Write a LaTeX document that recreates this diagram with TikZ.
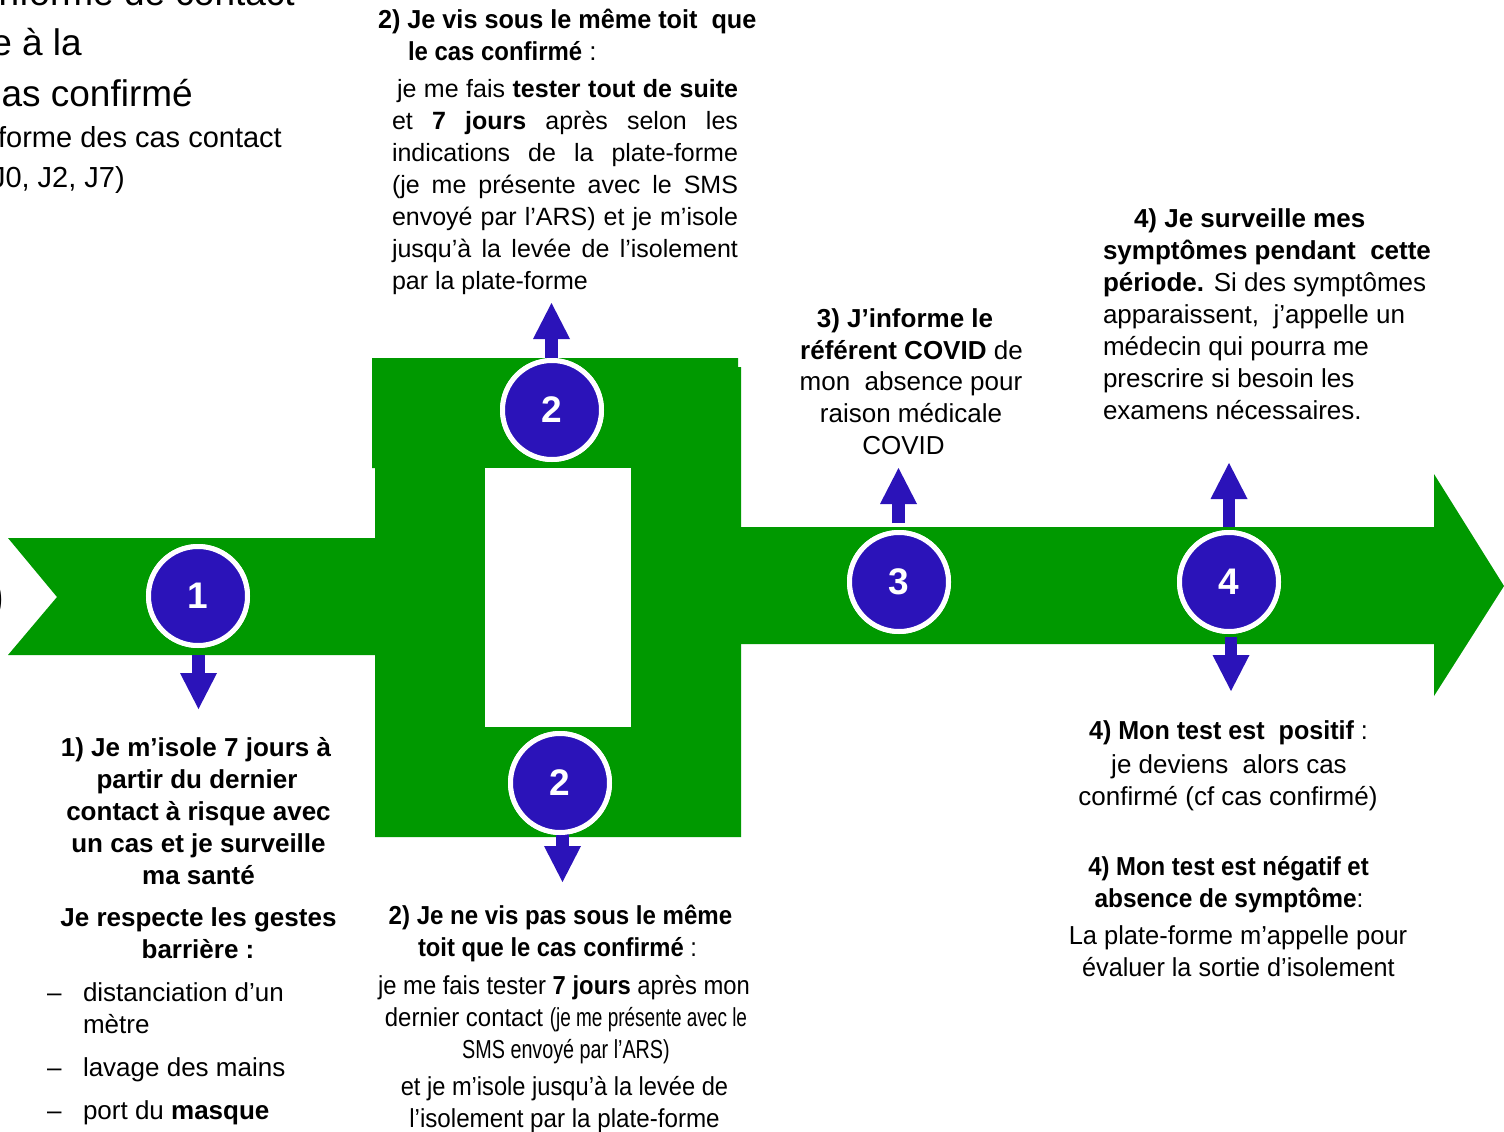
\documentclass[tikz,border=0pt]{standalone}
\usepackage{fontspec}
\setmainfont{Liberation Sans}
\usepackage{graphicx}
\usetikzlibrary{arrows.meta}
\definecolor{vgreen}{RGB}{0,153,0}
\definecolor{vblue}{RGB}{43,19,185}
\newcommand\sx[2]{\scalebox{#1}[1]{#2}}
\begin{document}
\begin{tikzpicture}[x=1pt,y=-1pt,
  txt/.style={font=\fontsize{26}{32}\selectfont, inner sep=0pt, outer sep=0pt},
  txs/.style={font=\fontsize{25}{31}\selectfont, inner sep=0pt, outer sep=0pt, anchor=base west},
  big/.style={font=\fontsize{37}{44}\selectfont, inner sep=0pt, anchor=base east},
  mid/.style={font=\fontsize{29}{35}\selectfont, inner sep=0pt, anchor=base east},
  num/.style={circle, fill=vblue, draw=white, line width=5pt, minimum size=99pt, inner sep=0pt, text=white, font=\fontsize{37}{40}\selectfont\bfseries},
  band/.style={fill=vgreen},
  blk/.style={draw=vblue, line width=12.5pt, -{Triangle[width=37pt,length=36pt,line width=0pt,fill=vblue]}},
  lc/.style={txt, anchor=base},
  ll/.style={txt, anchor=base west}
]
\useasboundingbox (0,0) rectangle (1504,1132);
\clip (0,0) rectangle (1504,1132);

% green arrow
\fill[band] (8,538) -- (380,538) -- (380,655) -- (8,655) -- (57,597) -- cycle;
\fill[band] (372,358) -- (738,358) -- (738,367) -- (741,367) -- (741,837) -- (375,837) -- (375,468) -- (372,468) -- cycle;
\fill[white] (485,468) rectangle (631,727);
\fill[band] (740,527) -- (1434,527) -- (1434,474) -- (1504,586) -- (1434,696) -- (1434,644) -- (740,644) -- cycle;

% tips of the pointers
\coordinate (a1) at (198.5,709);
\coordinate (a2t) at (551.5,303);
\coordinate (a2b) at (562.5,882);
\coordinate (a3) at (898.5,468);
\coordinate (a4t) at (1229,463);
\coordinate (a4b) at (1231,691);

% circles
\path (198,596) node[num] (c1) {1}
      (552,410) node[num] (c2t) {2}
      (560,783) node[num] (c2b) {2}
      (899,582) node[num] (c3) {3}
      (1229,582) node[num] (c4) {4};

\draw[blk, shorten <=7pt] (a1 |- c1.south) -- (a1);
\draw[blk] (a2t |- c2t.north) -- (a2t);
\draw[blk] (a2b |- c2b.center) -- (a2b);
\draw[blk, shorten <=7pt] (a3 |- c3.north) -- (a3);
\draw[blk, shorten <=3pt] (a4t |- c4.north) -- (a4t);
\draw[blk, shorten <=3pt] (a4b |- c4.south) -- (a4b);

% circles again, over the pointers
\path (198,596) node[num] {1}
      (552,410) node[num] {2}
      (560,783) node[num] {2}
      (899,582) node[num] {3}
      (1229,582) node[num] {4};

% top-left clipped title
\node[big] (h1) at (295,6) {nforme de contact};
\node[big] (h2) at (82,56) {e à la};
\node[big] (h3) at (193,106) {as confirmé};
\node[mid] (h4) at (282,147) {forme des cas contact};
\node[mid] (h5) at (125,187) {J0, J2, J7)};
\node[font=\fontsize{56}{60}\selectfont, inner sep=0pt, anchor=base east] (h6) at (5,614) {)};

% block 2 top
\node[ll] (t2a) at (378,29) {\sx{0.97}{\textbf{2) Je vis sous le même toit\ \ que}}};
\node[ll] (t2b) at (408,60) {\sx{0.92}{\textbf{le cas confirmé}} :};
\node[txs] (t2c) at (397,97) {\makebox[341pt][s]{je me fais \textbf{tester tout de suite}}};
\node[txs] (t2d) at (392,129) {\makebox[346pt][s]{et \textbf{7 jours} après selon les}};
\node[txs] (t2e) at (392,161) {\makebox[346pt][s]{indications de la plate-forme}};
\node[txs] (t2f) at (392,193) {\makebox[346pt][s]{(je me présente avec le SMS}};
\node[txs] (t2g) at (392,225) {\makebox[346pt][s]{envoyé par l’ARS) et je m’isole}};
\node[txs] (t2h) at (392,257) {\makebox[346pt][s]{jusqu’à la levée de l’isolement}};
\node[txs] (t2i) at (392,289) {par la plate-forme};

% block 3
\node[lc] (t3a) at (905,327.5) {\textbf{3) J’informe le}};
\node[lc] (t3b) at (911.5,359) {\textbf{référent COVID} de};
\node[lc] (t3c) at (911,390.5) {mon\ \ absence pour};
\node[lc] (t3d) at (911,422.5) {raison médicale};
\node[lc] (t3e) at (903.5,454.5) {COVID};

% block 4 top
\node[ll] (t4a) at (1134,227) {\textbf{4) Je surveille mes}};
\node[ll] (t4b) at (1103,259) {\textbf{symptômes pendant\ \ cette}};
\node[ll] (t4c) at (1103,291) {\textbf{période.} Si des symptômes};
\node[ll] (t4d) at (1103,323) {apparaissent,\ \ j’appelle un};
\node[ll] (t4e) at (1103,355) {médecin qui pourra me};
\node[ll] (t4f) at (1103,387) {prescrire si besoin les};
\node[ll] (t4g) at (1103,419) {examens nécessaires.};

% block 4 bottom
\node[lc] (t5a) at (1228.5,739) {\sx{0.965}{\textbf{4) Mon test est\ \ positif} :}};
\node[lc] (t5b) at (1229,773) {je deviens\ \ alors cas};
\node[lc] (t5c) at (1228,805) {confirmé (cf cas confirmé)};
\node[lc] (t5d) at (1228.5,875) {\sx{0.92}{\textbf{4) Mon test est négatif et}}};
\node[lc] (t5e) at (1229,907) {\sx{0.94}{\textbf{absence de symptôme}:}};
\node[lc] (t5f) at (1238,944) {\sx{0.98}{La plate-forme m’appelle pour}};
\node[lc] (t5g) at (1238.5,976) {\sx{0.97}{évaluer la sortie d’isolement}};

% block 2 bottom
\node[lc] (t6a) at (560.5,924) {\sx{0.925}{\textbf{2) Je ne vis pas sous le même}}};
\node[lc] (t6b) at (557.5,956) {\sx{0.915}{\textbf{toit que le cas confirmé} :}};
\node[lc] (t6c) at (564,994) {\sx{0.916}{je me fais tester \textbf{7 jours} après mon}};
\node[lc] (t6d) at (566,1026) {\sx{0.92}{dernier contact }\sx{0.73}{(je me présente avec le}};
\node[lc] (t6e) at (566,1058) {\sx{0.76}{SMS envoyé par l’ARS)}};
\node[lc] (t6f) at (564.5,1095) {\sx{0.91}{et je m’isole jusqu’à la levée de}};
\node[lc] (t6g) at (564.5,1127) {\sx{0.93}{l’isolement par la plate-forme}};

% block 1
\node[lc] (t1a) at (196,756) {\textbf{1) Je m’isole 7 jours à}};
\node[lc] (t1b) at (197,788) {\textbf{partir du dernier}};
\node[lc] (t1c) at (198.5,820) {\textbf{contact à risque avec}};
\node[lc] (t1d) at (198.5,852) {\textbf{un cas et je surveille}};
\node[lc] (t1e) at (198.5,884) {\textbf{ma santé}};
\node[lc] (t1f) at (198.5,926) {\textbf{Je respecte les gestes}};
\node[lc] (t1g) at (198,958) {\textbf{barrière :}};
\node[ll] (d1) at (47,1001) {–};
\node[ll] (b1) at (83,1001) {distanciation d’un};
\node[ll] (b1b) at (83,1033) {mètre};
\node[ll] (d2) at (47,1076) {–};
\node[ll] (b2) at (83,1076) {lavage des mains};
\node[ll] (d3) at (47,1119) {–};
\node[ll] (b3) at (83,1119) {port du \textbf{masque}};
\end{tikzpicture}
\end{document}
